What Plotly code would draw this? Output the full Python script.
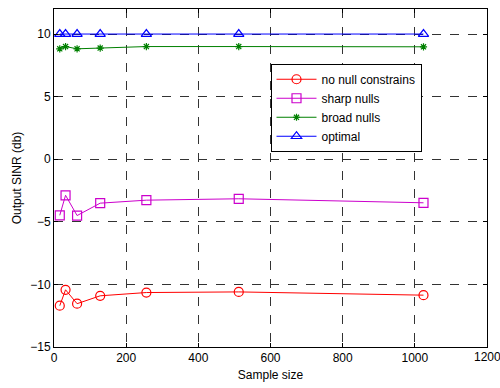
import plotly.graph_objects as go

sample_size = [16, 32, 64, 128, 256, 512, 1024]
no_null = [-11.7, -10.43, -11.54, -10.91, -10.65, -10.6, -10.86]
sharp_nulls = [-4.48, -2.88, -4.5, -3.51, -3.27, -3.16, -3.48]
broad_nulls = [8.82, 9.0, 8.82, 8.88, 9.0, 9.0, 8.98]
optimal = [10, 10, 10, 10, 10, 10, 10]

x_ticks = [0, 200, 400, 600, 800, 1000, 1200]
y_ticks = [-15, -10, -5, 0, 5, 10]

series = [
    ("no null constrains", no_null, "#ff0000", "circle-open", 9),
    ("sharp nulls", sharp_nulls, "#cc00cc", "square-open", 9),
    ("broad nulls", broad_nulls, "#008000", "asterisk-open", 6),
    ("optimal", optimal, "#0000ff", "triangle-up-open", 9),
]

FONT = "Liberation Sans, Arial"

fig = go.Figure()
for name, ys, color, sym, sz in series:
    fig.add_trace(go.Scatter(
        x=sample_size, y=ys, name=name, mode="lines+markers",
        line=dict(color=color, width=1),
        marker=dict(symbol=sym, size=sz, color=color, line=dict(color=color, width=1.2)),
    ))

axis_common = dict(
    showline=True, linecolor="black", linewidth=1, mirror="allticks",
    ticks="inside", ticklen=4, tickcolor="black",
    showgrid=True, gridcolor="#333333", griddash="dash", gridwidth=1,
    zeroline=False,
    tickfont=dict(family=FONT, size=12, color="black"),
)

# last x tick label would be auto-hidden by plotly at the edge; draw it as annotation
x_text = [str(v) for v in x_ticks[:-1]] + [""]

fig.update_xaxes(range=[0, 1200], tickvals=x_ticks, ticktext=x_text,
                 title=dict(text="Sample size", font=dict(family=FONT, size=12, color="black"), standoff=6),
                 **axis_common)
fig.update_yaxes(range=[-15, 12], tickvals=y_ticks,
                 title=dict(text="Output SINR (db)", font=dict(family=FONT, size=12, color="black"), standoff=6),
                 **axis_common)

fig.add_annotation(x=x_ticks[-1], y=0, xref="x", yref="paper", yanchor="top",
                   text=str(x_ticks[-1]), showarrow=False, yshift=-1,
                   font=dict(family=FONT, size=12, color="black"))

fig.update_layout(
    width=500, height=388,
    margin=dict(l=54, r=13, t=8, b=39),
    paper_bgcolor="white", plot_bgcolor="white",
    legend=dict(x=0.5, y=0.838, xanchor="left", yanchor="top",
                bgcolor="white", bordercolor="black", borderwidth=1,
                font=dict(family=FONT, size=12, color="black"),
                itemwidth=40, tracegroupgap=0),
    showlegend=True,
)

fig.write_html("out.html")
